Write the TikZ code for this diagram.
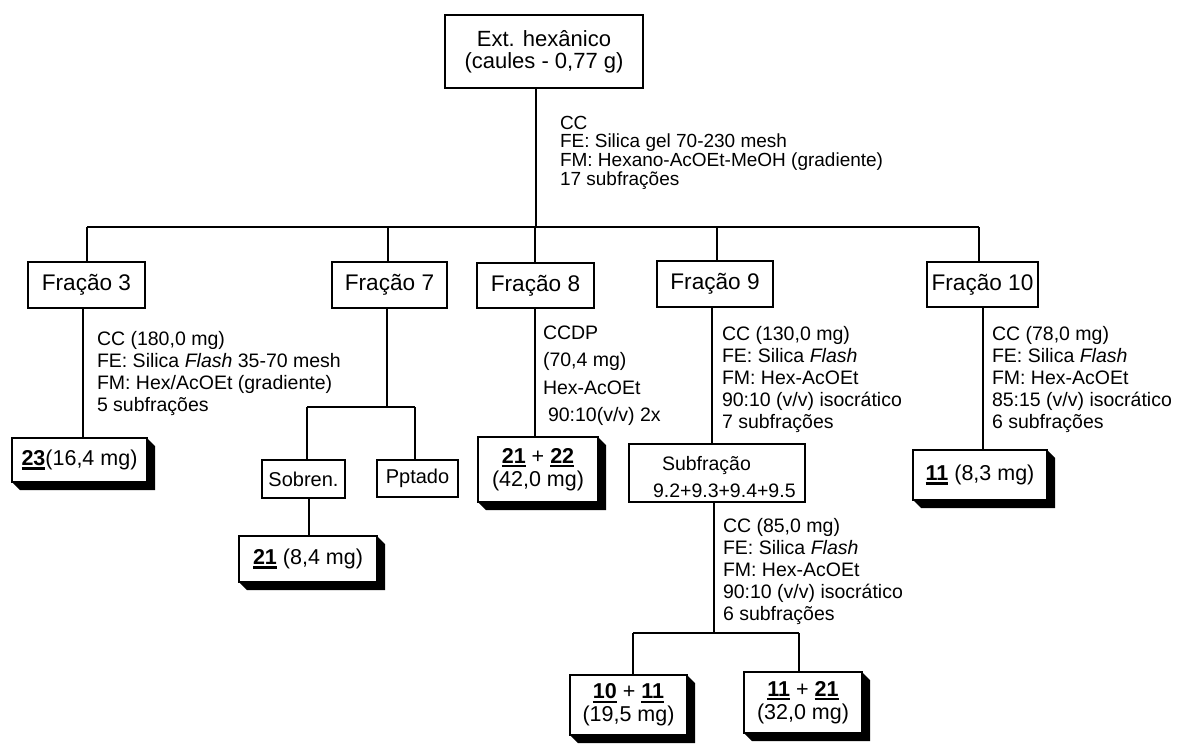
\documentclass[tikz,border=0pt]{standalone}
\usepackage{fontspec}
\setmainfont{Liberation Sans}
\usetikzlibrary{calc}
\newcommand\bnum[1]{\setbox0=\hbox{\bfseries #1}\rlap{\rule[-4.2pt]{\wd0}{2.3pt}}\box0\relax}
\newcommand\tightlines{\lineskiplimit -50pt\relax}
\tikzset{
  box/.style={draw, line width=1.3pt, inner sep=0pt, outer sep=0pt, fill=white, align=center},
  frac/.style={box, font=\fontsize{22.6}{24}\selectfont},
  topbox/.style={box, font=\fontsize{22}{22}\selectfont\tightlines},
  res/.style={box, font=\fontsize{21.5}{23}\selectfont\tightlines},
  small/.style={box, font=\fontsize{20}{22}\selectfont},
  note/.style={anchor=north west, inner sep=0pt, outer sep=0pt, align=left,
    font=\fontsize{19.5}{22}\selectfont\tightlines},
  subtxt/.style={anchor=base west, inner sep=0pt, outer sep=0pt, font=\fontsize{19.5}{22}\selectfont},
  link/.style={line width=2pt},
  shade/.style={fill=black}
}
\newcommand\st{\rule{0pt}{16pt}}
\begin{document}
\begin{tikzpicture}[x=1pt,y=-1pt]
\useasboundingbox (0,0) rectangle (1177,745);
% ---------- boxes
\node[topbox, minimum width=198pt, minimum height=73pt] (T) at (544,51.5) {Ext. hexânico\\(caules - 0,77 g)};
\node[frac, minimum width=117pt, minimum height=46pt] (F3) at (86.5,285) {Fração 3};
\node[frac, minimum width=115pt, minimum height=46pt] (F7) at (389.5,285) {Fração 7};
\node[frac, minimum width=117pt, minimum height=45pt] (F8) at (535.5,285.5) {Fração 8};
\node[frac, minimum width=116pt, minimum height=46pt] (F9) at (715,284) {Fração 9};
\node[frac, minimum width=111pt, minimum height=45pt] (F10) at (982.5,284.5) {Fração 10};
\node[small, minimum width=83pt, minimum height=38pt] (Sob) at (303.5,479) {Sobren.};
\node[small, minimum width=81pt, minimum height=37pt] (Ppt) at (417.5,478.5) {Pptado};
\node[box, minimum width=176pt, minimum height=58pt] (Sub) at (717,473) {};
\node[subtxt] (SubA) at (662,470) {Subfração};
\node[subtxt] (SubB) at (653,497) {9.2+9.3+9.4+9.5};
% result boxes
\node[res, minimum width=135pt, minimum height=44pt] (R23) at (79.5,460) {\bnum{23}(16,4 mg)};
\node[res, minimum width=138pt, minimum height=46pt] (R21) at (308,559) {\bnum{21} (8,4 mg)};
\node[res, minimum width=120pt, minimum height=65pt] (R2122) at (538,469.5) {\bnum{21} + \bnum{22}\\(42,0 mg)};
\node[res, minimum width=134pt, minimum height=50pt] (R11) at (980,475) {\bnum{11} (8,3 mg)};
\node[res, minimum width=117pt, minimum height=60pt] (R1011) at (628.5,705) {\bnum{10} + \bnum{11}\\(19,5 mg)};
\node[res, minimum width=118pt, minimum height=61pt] (R1121) at (803,702.5) {\bnum{11} + \bnum{21}\\(32,0 mg)};
\foreach \n in {R23,R21,R2122,R11,R1011,R1121}
  \fill[shade] (\n.north east) -- ++(8,8) -- ($(\n.south east)+(8,8)$) -- ($(\n.south west)+(8,8)$)
    -- (\n.south west) -- (\n.south east) -- cycle;
% ---------- notes
\node[note, font=\fontsize{19}{18.7}\selectfont\tightlines] (N0) at (560,113)
  {\st CC\\FE: Silica gel 70-230 mesh\\FM: Hexano-AcOEt-MeOH (gradiente)\\17 subfrações};
\node[note] (N3) at (97,329)
  {\st CC (180,0 mg)\\FE: Silica \textit{Flash} 35-70 mesh\\FM: Hex/AcOEt (gradiente)\\5 subfrações};
\node[note, font=\fontsize{19.5}{27.5}\selectfont\tightlines] (N8) at (543,323)
  {\st CCDP\\(70,4 mg)\\Hex-AcOEt\\\hspace*{5pt}90:10(v/v) 2x};
\node[note] (N9) at (722,324)
  {\st CC (130,0 mg)\\FE: Silica \textit{Flash}\\FM: Hex-AcOEt\\90:10 (v/v) isocrático\\7 subfrações};
\node[note] (N10) at (992,324)
  {\st CC (78,0 mg)\\FE: Silica \textit{Flash}\\FM: Hex-AcOEt\\85:15 (v/v) isocrático\\6 subfrações};
\node[note] (NS) at (723,516)
  {\st CC (85,0 mg)\\FE: Silica \textit{Flash}\\FM: Hex-AcOEt\\90:10 (v/v) isocrático\\6 subfrações};
% ---------- junction coordinates
\coordinate (b0) at (536,227);
\coordinate (bL) at (87,227);
\coordinate (b7) at (388,227);
\coordinate (b8) at (535,227);
\coordinate (b9) at (717,227);
\coordinate (bR) at (979,227);
\coordinate (c3) at (83,0);
\coordinate (c7) at (387,407);
\coordinate (c7L) at (307,407);
\coordinate (c7R) at (415,407);
\coordinate (cS) at (309,0);
\coordinate (c8) at (535,0);
\coordinate (c9) at (712,0);
\coordinate (c10) at (983,0);
\coordinate (cU) at (714,633);
\coordinate (cUL) at (633,633);
\coordinate (cUR) at (799,633);
% ---------- connectors
\draw[link] (T.south -| b0) -- (b0);
\draw[link] (bL) -- (bR);
\draw[link] (bL) -- (bL |- F3.north);
\draw[link] (b7) -- (b7 |- F7.north);
\draw[link] (b8) -- (b8 |- F8.north);
\draw[link] (b9) -- (b9 |- F9.north);
\draw[link] (bR) -- (bR |- F10.north);
\draw[link] (F3.south -| c3) -- (R23.north -| c3);
\draw[link] (F7.south -| c7) -- (c7);
\draw[link] (c7L) -- (c7R);
\draw[link] (c7L) -- (c7L |- Sob.north);
\draw[link] (c7R) -- (c7R |- Ppt.north);
\draw[link] (Sob.south -| cS) -- (R21.north -| cS);
\draw[link] (F8.south -| c8) -- (R2122.north -| c8);
\draw[link] (F9.south -| c9) -- (Sub.north -| c9);
\draw[link] (F10.south -| c10) -- (R11.north -| c10);
\draw[link] (Sub.south -| cU) -- (cU);
\draw[link] (cUL) -- (cUR);
\draw[link] (cUL) -- (cUL |- R1011.north);
\draw[link] (cUR) -- (cUR |- R1121.north);
\end{tikzpicture}
\end{document}
